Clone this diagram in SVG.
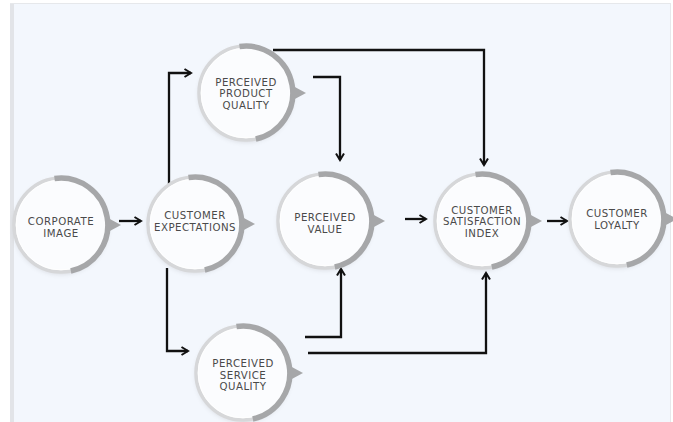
<svg xmlns="http://www.w3.org/2000/svg" xmlns:xlink="http://www.w3.org/1999/xlink" width="673" height="422" viewBox="0 0 673 422">
<style>
.lbl{font-family:"DejaVu Sans","Liberation Sans",sans-serif;font-size:10.2px;fill:#4a4a4a;text-anchor:middle;letter-spacing:0.5px}
.con{fill:none;stroke:#111;stroke-width:2.3;marker-end:url(#arr)}
</style>
<defs>
<filter id="sh" x="-30%" y="-30%" width="160%" height="160%">
<feDropShadow dx="0" dy="2" stdDeviation="2.5" flood-color="#000" flood-opacity="0.12"/>
</filter>
<marker id="arr" viewBox="0 0 10 10" refX="8" refY="5" markerWidth="10" markerHeight="10" markerUnits="userSpaceOnUse" orient="auto">
<path d="M1.5,1 L8,5 L1.5,9" fill="none" stroke="#111" stroke-width="2"/>
</marker>
<g id="ring">
<circle r="47" fill="#fbfcfe" filter="url(#sh)"/>
<circle r="47" fill="none" stroke="#d6d7d9" stroke-width="3.5"/>
<circle r="44.8" fill="none" stroke="#ffffff" stroke-width="1"/>
<path d="M-6.5,-46.5 A47,47 0 0 1 9.8,46" fill="none" stroke="#a6a7a9" stroke-width="5.5"/>
<polygon points="47,-7 60,0 47,7" fill="#a6a7a9"/>
</g>
</defs>
<rect x="0" y="0" width="673" height="422" fill="#ffffff"/>
<rect x="11" y="3" width="660" height="419" fill="#f3f7fd"/>
<rect x="10" y="3" width="4" height="419" fill="#e2e4e8"/>
<line x1="10" y1="3.5" x2="671" y2="3.5" stroke="#e6e8eb" stroke-width="1"/>
<line x1="670.5" y1="3" x2="670.5" y2="422" stroke="#e6e8eb" stroke-width="1"/>

<g id="connectors">
<path class="con" d="M119,221 H141"/>
<path class="con" d="M405,219 H426"/>
<path class="con" d="M547,221 H567"/>
<path class="con" d="M169,186 V73 H191"/>
<path class="con" d="M167,268 V351 H188"/>
<path class="con" d="M313,77 H340 V160"/>
<path class="con" d="M273,50 H484 V165"/>
<path class="con" d="M305,337 H341 V269"/>
<path class="con" d="M308,353 H486 V273"/>
</g>

<g id="corporate-image" transform="translate(61,225)">
<use xlink:href="#ring"/>
<text class="lbl" x="0" y="0">CORPORATE</text>
<text class="lbl" x="0" y="11.5">IMAGE</text>
</g>
<g id="customer-expectations" transform="translate(195,224)">
<use xlink:href="#ring"/>
<text class="lbl" x="0" y="-5">CUSTOMER</text>
<text class="lbl" x="0" y="6.5">EXPECTATIONS</text>
</g>
<g id="perceived-product-quality" transform="translate(246,93)">
<use xlink:href="#ring"/>
<text class="lbl" x="0" y="-7.5">PERCEIVED</text>
<text class="lbl" x="0" y="4">PRODUCT</text>
<text class="lbl" x="0" y="15.5">QUALITY</text>
</g>
<g id="perceived-value" transform="translate(325,221)">
<use xlink:href="#ring"/>
<text class="lbl" x="0" y="0">PERCEIVED</text>
<text class="lbl" x="0" y="11.5">VALUE</text>
</g>
<g id="customer-satisfaction-index" transform="translate(482,221)">
<use xlink:href="#ring"/>
<text class="lbl" x="0" y="-7.5">CUSTOMER</text>
<text class="lbl" x="0" y="4">SATISFACTION</text>
<text class="lbl" x="0" y="15.5">INDEX</text>
</g>
<g id="customer-loyalty" transform="translate(617,219)">
<use xlink:href="#ring"/>
<text class="lbl" x="0" y="-2">CUSTOMER</text>
<text class="lbl" x="0" y="9.5">LOYALTY</text>
</g>
<g id="perceived-service-quality" transform="translate(243,373)">
<use xlink:href="#ring"/>
<text class="lbl" x="0" y="-6">PERCEIVED</text>
<text class="lbl" x="0" y="5.5">SERVICE</text>
<text class="lbl" x="0" y="17">QUALITY</text>
</g>
</svg>
